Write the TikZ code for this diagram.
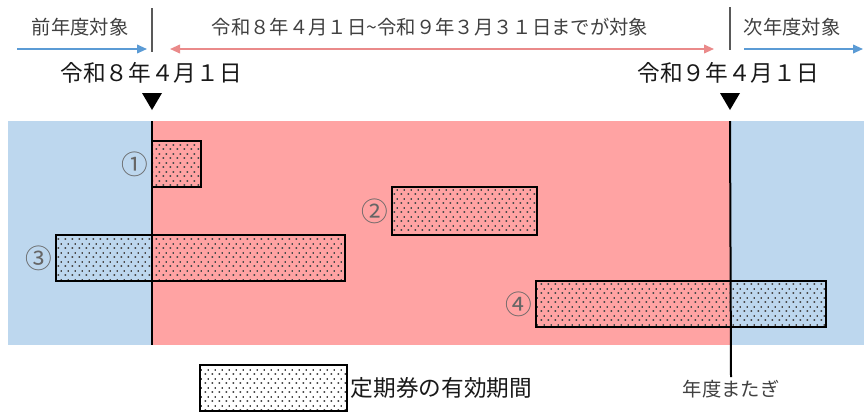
\documentclass[tikz,border=0pt]{standalone}
\usepackage{fontspec}
\setmainfont{Noto Sans CJK JP}
\usetikzlibrary{positioning,fit,arrows.meta,patterns.meta}

\definecolor{bandblue}{RGB}{189,215,238}
\definecolor{bandpink}{RGB}{255,163,163}
\definecolor{arrowblue}{RGB}{91,155,213}
\definecolor{arrowpink}{RGB}{234,138,138}

\tikzdeclarepattern{
	name=ticketdots,
	type=uncolored,
	bottom left={(0pt,0pt)},
	top right={(5.25pt,6.75pt)},
	tile size={(5.25pt,6.75pt)},
	code={
		\fill (1.3pt,1.7pt) rectangle (2.7pt,3.1pt);
		\fill (3.925pt,5.075pt) rectangle (5.1pt,6.475pt);
	}
}

\begin{document}
\begin{tikzpicture}[x=0.75pt, y=-0.75pt,
	ticket/.style={draw, line width=1.2pt, pattern=ticketdots, pattern color=black!70, inner sep=0pt},
	num/.style={text=black!60, font=\fontsize{20}{20}\selectfont, inner sep=0pt},
	date/.style={text=black!90, font=\fontsize{17}{17}\selectfont},
	note/.style={text=black!75, font=\fontsize{14.5}{14.5}\selectfont},
	yearline/.style={line width=1.5pt},
	tick/.style={draw=black!65, line width=1.5pt},
	tip/.style={Triangle[length=7.5pt,width=6.5pt]},
	span/.style={line width=1.3pt}]

	\useasboundingbox (0,0) rectangle (864,412);

	% Fiscal year bands
	\fill[bandblue] (8,121) rectangle (152,345);
	\fill[bandpink] (152,121) rectangle (730,345);
	\fill[bandblue] (730,121) rectangle (864,345);

	% Header texts
	\node[note] (prev) at (80,27) {前年度対象};
	\node[note] (cur) at (430,27) {令和８年４月１日\textasciitilde 令和９年３月３１日までが対象};
	\node[note] (next) at (792,27) {次年度対象};

	\coordinate (t8a) at (152,8);
	\coordinate (t8b) at (152,52);
	\coordinate (t9a) at (730,7);
	\coordinate (t9b) at (730,50);
	\draw[tick] (t8a) -- (t8b);
	\draw[tick] (t9a) -- (t9b);

	\coordinate (pa) at (17,49);
	\coordinate (pb) at (147,49);
	\coordinate (ca) at (170,49);
	\coordinate (cb) at (714,49);
	\coordinate (na) at (744,49);
	\coordinate (nb) at (863,49);
	\draw[span, arrowblue, -{Triangle[length=7.5pt,width=6.5pt]}] (pa) -- (pb);
	\draw[span, arrowpink, {Triangle[length=7.5pt,width=6.5pt]}-{Triangle[length=7.5pt,width=6.5pt]}] (ca) -- (cb);
	\draw[span, arrowblue, -{Triangle[length=7.5pt,width=6.5pt]}] (na) -- (nb);

	% Dates
	\node[date] (d8) at (151,73) {令和８年４月１日};
	\node[date] (d9) at (728,73) {令和９年４月１日};
	\foreach \x in {152,730}
		\fill (\x-10,93) -- (\x+10,93) -- (\x,110) -- cycle;

	% Ticket periods
	\node[ticket, fit={(152,141) (201,187)}] (p1) {};
	\node[ticket, fit={(392,187) (537,235)}] (p2) {};
	\node[ticket, fit={(56,235) (345,281)}] (p3) {};
	\node[ticket, fit={(536,281) (826,327)}] (p4) {};
	\node[num, left=2pt of p1] {①};
	\node[num, left=2pt of p2] {②};
	\node[num, left=2pt of p3] {③};
	\node[num, left=2pt of p4] {④};

	% Year lines
	\node[note, inner sep=2pt] (cross) at (731,389) {年度またぎ};
	\coordinate (y8a) at (152,121);
	\coordinate (y8b) at (152,345);
	\coordinate (y9a) at (730,121);
	\draw[yearline] (y8a) -- (y8b);
	\draw[yearline] (y9a) -- (cross.north);

	% Legend
	\node[ticket, fit={(200,365) (347,411)}] (key) {};
	\node[date, inner sep=0pt, right=2pt of key] (keytext) {定期券の有効期間};
\end{tikzpicture}
\end{document}
